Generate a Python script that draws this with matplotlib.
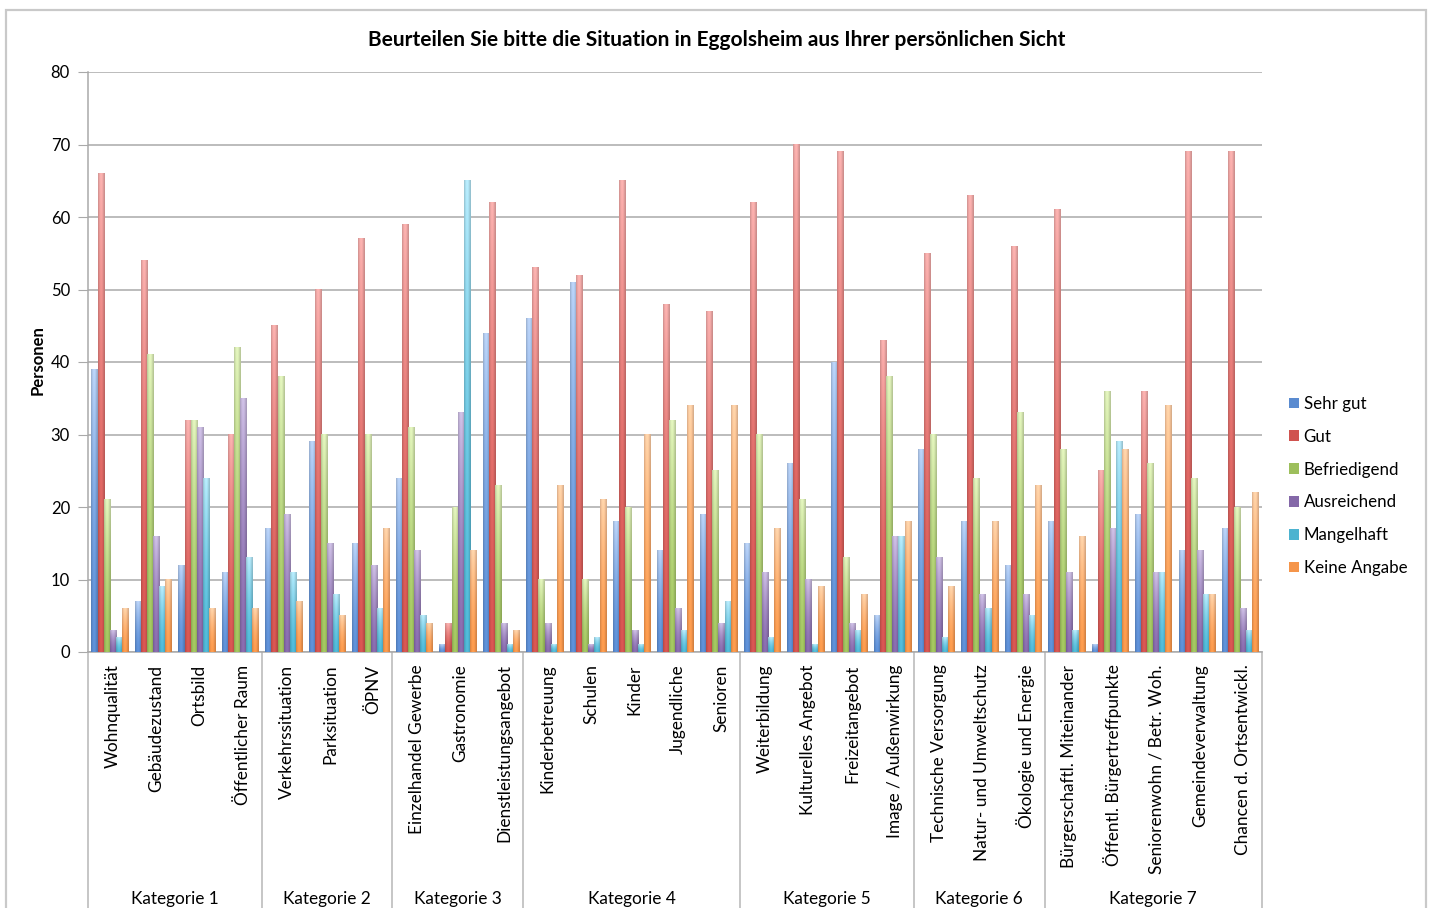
import numpy as np
import matplotlib
matplotlib.use("Agg")
import matplotlib.pyplot as plt
import matplotlib.transforms as mtransforms
from matplotlib.patches import Rectangle, Patch
from matplotlib.colors import to_rgb

plt.rcParams['font.family'] = ['Lato', 'DejaVu Sans']

title = "Beurteilen Sie bitte die Situation in Eggolsheim aus Ihrer persönlichen Sicht"
y_label = "Personen"

items = [
    "Wohnqualität", "Gebäudezustand", "Ortsbild", "Öffentlicher Raum",
    "Verkehrssituation", "Parksituation", "ÖPNV",
    "Einzelhandel Gewerbe", "Gastronomie", "Dienstleistungsangebot",
    "Kinderbetreuung", "Schulen", "Kinder", "Jugendliche", "Senioren",
    "Weiterbildung", "Kulturelles Angebot", "Freizeitangebot", "Image / Außenwirkung",
    "Technische Versorgung", "Natur- und Umweltschutz", "Ökologie und Energie",
    "Bürgerschaftl. Miteinander", "Öffentl. Bürgertreffpunkte",
    "Seniorenwohn / Betr. Woh.", "Gemeindeverwaltung", "Chancen d. Ortsentwickl.",
]

groups = ["Kategorie 1", "Kategorie 2", "Kategorie 3", "Kategorie 4",
          "Kategorie 5", "Kategorie 6", "Kategorie 7"]
group_sizes = [4, 3, 3, 5, 4, 3, 5]

series = ["Sehr gut", "Gut", "Befriedigend", "Ausreichend", "Mangelhaft", "Keine Angabe"]

sehr_gut = [39, 7, 12, 11, 17, 29, 15, 24, 1, 44, 46, 51, 18, 14, 19,
            15, 26, 40, 5, 28, 18, 12, 18, 1, 19, 14, 17]
gut = [66, 54, 32, 30, 45, 50, 57, 59, 4, 62, 53, 52, 65, 48, 47,
       62, 70, 69, 43, 55, 63, 56, 61, 25, 36, 69, 69]
befriedigend = [21, 41, 32, 42, 38, 30, 30, 31, 20, 23, 10, 10, 20, 32, 25,
                30, 21, 13, 38, 30, 24, 33, 28, 36, 26, 24, 20]
ausreichend = [3, 16, 31, 35, 19, 15, 12, 14, 33, 4, 4, 1, 3, 6, 4,
               11, 10, 4, 16, 13, 8, 8, 11, 17, 11, 14, 6]
mangelhaft = [2, 9, 24, 13, 11, 8, 6, 5, 65, 1, 1, 2, 1, 3, 7,
              2, 1, 3, 16, 2, 6, 5, 3, 29, 11, 8, 3]
keine_angabe = [6, 10, 6, 6, 7, 5, 17, 4, 14, 3, 23, 21, 30, 34, 34,
                17, 9, 8, 18, 9, 18, 23, 16, 28, 34, 8, 22]

values = [sehr_gut, gut, befriedigend, ausreichend, mangelhaft, keine_angabe]

base_colors = ["#5a8bd0", "#d0534f", "#9dbf5c", "#8468a8", "#4db3d0", "#f5954a"]
light_colors = ["#b3cbee", "#f0aaa8", "#d9eab5", "#c6b8dc", "#b0e2f2", "#fbcca4"]

W, H = 1434, 908
fig = plt.figure(figsize=(W / 100, H / 100), dpi=100)
fig.patch.set_facecolor("white")

# outer chart frame
fig.add_artist(Rectangle((6 / W, -0.05), 1420 / W, 1 - 10 / H + 0.05,
                         transform=fig.transFigure, fill=False,
                         edgecolor="#c9c9c9", lw=1.6))

ax = fig.add_axes([88 / W, (H - 652) / H, (1262 - 88) / W, (652 - 72) / H])
ax.set_facecolor("none")

n = len(items)
x = np.arange(n)
bw = 0.14

def gradient_image(base, light, nx=24, ny=64):
    b = np.array(to_rgb(base))
    l = np.array(to_rgb(light))
    t = np.linspace(0, 1, ny)[:, None, None] ** 1.6
    img = b * (1 - t) + l * t
    # darker left edge, brighter middle for a rounded look
    s = np.linspace(0, 1, nx)[None, :, None]
    shade = 0.86 + 0.2 * np.sin(np.pi * np.clip(s * 1.1, 0, 1))
    img = np.clip(img * shade, 0, 1)
    return img

for j, (vals, c, lc) in enumerate(zip(values, base_colors, light_colors)):
    pos = x + (j - 2.5) * bw
    bars = ax.bar(pos, vals, width=bw, color=c, zorder=2, linewidth=0)
    img = gradient_image(c, lc)
    for rect in bars:
        h = rect.get_height()
        if h <= 0:
            continue
        x0 = rect.get_x()
        ax.imshow(img, extent=(x0, x0 + rect.get_width(), 0, h), origin="lower",
                  aspect="auto", interpolation="bilinear", zorder=3)

ax.set_xlim(-0.5, n - 0.5)
ax.set_ylim(0, 80)
ax.set_aspect("auto")
ax.set_yticks(np.arange(0, 81, 10))
ax.yaxis.grid(True, color="#a9a9a9", lw=1.1, zorder=0)
ax.set_axisbelow(True)
ax.tick_params(axis="y", length=7, color="#a9a9a9", labelsize=12, pad=6)

ax.set_xticks(x)
ax.set_xticklabels(items, rotation=90, va="top", ha="center", fontsize=12.4)
ax.tick_params(axis="x", length=0, pad=9)
shift = mtransforms.ScaledTranslation(3 / 100, 0, fig.dpi_scale_trans)
for lbl in ax.get_xticklabels():
    lbl.set_transform(lbl.get_transform() + shift)

for side in ["top", "right"]:
    ax.spines[side].set_visible(False)
for side in ["left", "bottom"]:
    ax.spines[side].set_color("#a9a9a9")
    ax.spines[side].set_linewidth(1.1)

# category separators and group captions below the axis
bottom_frac = -(H - 652 + 5) / (652 - 72)
edges = np.concatenate([[0], np.cumsum(group_sizes)]) - 0.5
trans = ax.get_xaxis_transform()
for e in edges:
    ax.plot([e, e], [0, bottom_frac], transform=trans, color="#c2c2c2",
            lw=1.3, clip_on=False, zorder=1)
cap_y = -(899 - 652) / (652 - 72)
for g, a, b in zip(groups, edges[:-1], edges[1:]):
    ax.text((a + b) / 2, cap_y, g, transform=trans, ha="center", va="center",
            fontsize=12.4)

fig.text(0.5, 1 - 40 / H, title, ha="center", va="center",
         fontsize=15, fontweight="bold")
fig.text(38 / W, 1 - 360 / H, y_label, ha="center", va="center",
         rotation=90, fontsize=12, fontweight="bold")

handles = [Patch(facecolor=c, edgecolor="none") for c in base_colors]
fig.legend(handles, series, loc="center left", bbox_to_anchor=(1274 / W, 1 - 486 / H),
           frameon=False, fontsize=12.2, handlelength=0.55, handleheight=0.55,
           handletextpad=0.3, labelspacing=1.0)

fig.savefig("out.png", dpi=100)
